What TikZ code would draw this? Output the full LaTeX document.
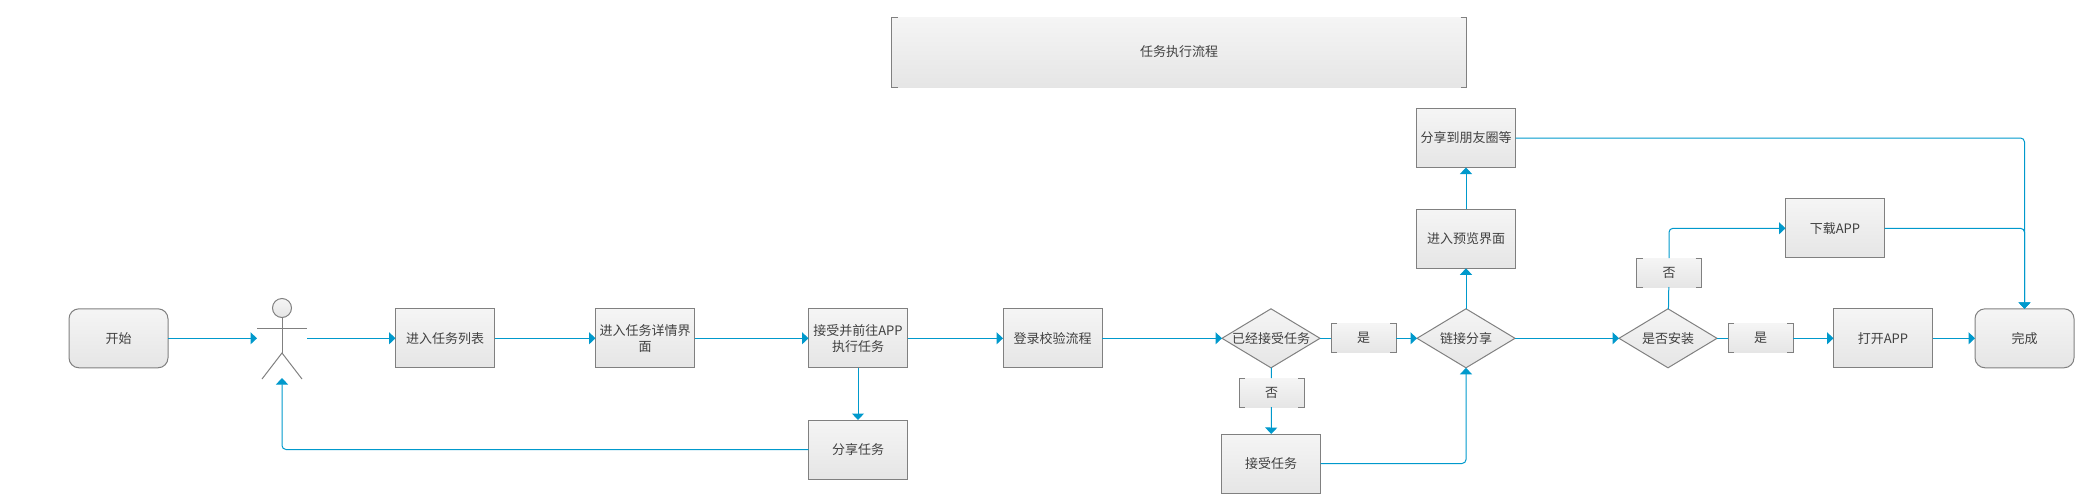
\documentclass[tikz,border=0pt]{standalone}
\usepackage{fontspec}
\setmainfont{Noto Sans CJK SC}
\usetikzlibrary{calc,shapes.geometric,arrows.meta}
\definecolor{flowblue}{HTML}{0099CC}
\definecolor{edgegray}{HTML}{808080}
\definecolor{inktext}{HTML}{404040}
\tikzset{
    base/.style={top color=black!4,bottom color=black!10,text=inktext,font=\fontsize{13}{16}\selectfont,align=center,inner sep=0pt,outer sep=0pt},
    task/.style={base,draw=edgegray,line width=1pt,minimum width=99pt,minimum height=59pt},
    term/.style={task,rounded corners=10pt},
    check/.style={base,draw=edgegray,line width=1pt,shape=diamond,aspect=1.66,minimum width=98pt,minimum height=59pt},
    tag/.style={base,minimum width=65pt,minimum height=29pt},
    flow/.style={draw=flowblue,line width=1pt,rounded corners=4pt,-{Triangle[length=6.5pt,width=12pt]}},
    plain/.style={draw=flowblue,line width=1pt},
    limb/.style={draw=edgegray,line width=1pt},
    brk/.style={draw=edgegray,line width=1pt}
}
\begin{document}
\begin{tikzpicture}[x=1pt,y=-1pt]
    \useasboundingbox (0,0) rectangle (2075,493);
    % title
    \node[base,minimum width=575pt,minimum height=70pt] (title) at (1179,52) {任务执行流程};
    % main row
    \node[term] (start) at (118.5,338.3) {开始};
    \node[task] (list) at (445,338.3) {进入任务列表};
    \node[task] (detail) at (645,338.3) {进入任务详情界\\面};
    \node[task] (go) at (858,338.3) {接受并前往APP\\执行任务};
    \node[task] (login) at (1052.5,338.3) {登录校验流程};
    \node[check] (taken) at (1271,338.3) {已经接受任务};
    \node[tag] (yesa) at (1363.5,338.3) {是};
    \node[check] (link) at (1466,338.3) {链接分享};
    \node[check] (inst) at (1668,338.3) {是否安装};
    \node[tag] (yesb) at (1760.5,338.3) {是};
    \node[task] (open) at (1883,338.3) {打开APP};
    \node[term] (done) at (2024.5,338.3) {完成};
    % upper and lower branches
    \node[task] (view) at (1466,238.8) {进入预览界面};
    \node[task] (share) at (1466,138) {分享到朋友圈等};
    \node[task] (dl) at (1835,228.3) {下载APP};
    \node[tag] (nob) at (1669,272.5) {否};
    \node[tag] (noa) at (1271.5,392.5) {否};
    \node[task] (accept) at (1271,463.5) {接受任务};
    \node[task] (pass) at (858,449.5) {分享任务};
    % actor
    \node[base,draw=edgegray,line width=1pt,shape=circle,minimum size=19pt] (head) at (282,308) {};
    \coordinate (hip) at (282,353);
    \coordinate (actorin) at (257,338.3);
    \coordinate (actorout) at (307,338.3);
    \coordinate (actorfoot) at (282,378);
    \draw[limb] (head) -- (hip);
    \draw[limb] (257,328) -- (307,328);
    \draw[limb] (262,379) -- (hip) -- (302,379);
    % corners of the tags
    \foreach \n in {title,yesa,yesb,noa,nob}
    {
        \draw[brk] (\n.north west) ++(6,0) -- ++(-6,0) -- (\n.south west) -- ++(6,0);
        \draw[brk] (\n.north east) ++(-6,0) -- ++(6,0) -- (\n.south east) -- ++(-6,0);
    }
    % connectors
    \draw[flow] (start) -- (actorin);
    \draw[flow] (actorout) -- (list);
    \foreach \a/\b in {list/detail,detail/go,go/login,login/taken,yesa/link,link/inst,yesb/open,open/done,link/view,view/share,noa/accept,go/pass}
    \draw[flow] (\a) -- (\b);
    \foreach \a/\b in {taken/yesa,taken/noa,inst/yesb,inst/nob}
    \draw[plain] (\a) -- (\b);
    \draw[flow] (accept) -| (link);
    \draw[flow] (pass) -| (actorfoot);
    \draw[flow] (nob) |- (dl);
    \draw[flow] (share) -| (done);
    \draw[flow] (dl) -| (done);
\end{tikzpicture}
\end{document}
